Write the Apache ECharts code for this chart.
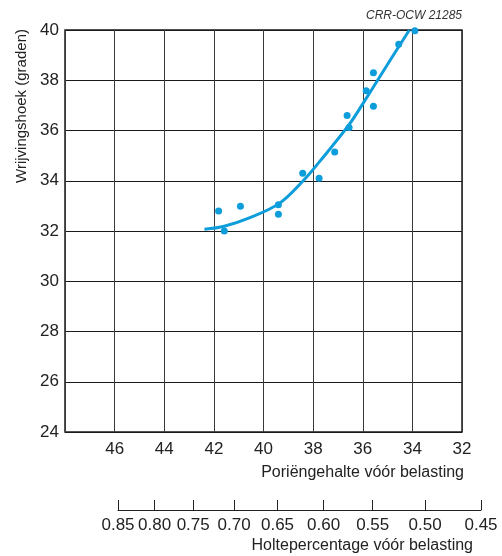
<!DOCTYPE html>
<html>
<head>
<meta charset="utf-8">
<script src="https://cdn.jsdelivr.net/npm/echarts@6/dist/echarts.min.js"></script>
<style>
  html, body { margin: 0; padding: 0; background: #fff; }
  #chart { width: 502px; height: 556px; }
</style>
</head>
<body>
<div id="chart"></div>
<script>
// meetpunten: poriëngehalte (%) en wrijvingshoek (graden)
const pointPorosity = [41.81, 41.58, 40.93, 39.40, 39.40, 38.42, 37.76, 37.13, 36.63, 36.55, 35.86, 35.57, 35.57, 34.55, 33.90];
const pointAngle = [32.80, 32.00, 32.99, 33.04, 32.67, 34.30, 34.10, 35.14, 36.60, 36.12, 37.58, 38.30, 36.97, 39.43, 39.97];
// getekende trendlijn
const curvePorosity = [42.38, 41.58, 40.57, 39.36, 38.42, 37.75, 36.56, 35.86, 35.06, 34.12];
const curveAngle = [32.07, 32.19, 32.52, 33.10, 33.98, 34.75, 36.22, 37.28, 38.54, 40.0];
// holtepercentage (e) ticks onder de grafiek
const voidRatioTicks = [0.85, 0.80, 0.75, 0.70, 0.65, 0.60, 0.55, 0.50, 0.45];

const blue = "#0d9ddb";
const font = "Liberation Sans, Arial, sans-serif";

// e = n / (1 - n)  ->  n = e / (1 + e), in procenten
const toPorosity = (e) => (e / (1 + e)) * 100;
const voidTickPos = voidRatioTicks.map(toPorosity);

const myChart = echarts.init(document.getElementById("chart"), null, { renderer: "canvas" });

const option = {
  backgroundColor: "#fff",
  animation: false,
  textStyle: { fontFamily: font },
  grid: [
    { left: 65, top: 30, width: 397, height: 402, show: true, borderColor: "#1a1a1a", borderWidth: 1.5, backgroundColor: "transparent" },
    { left: 118, top: 509, width: 363, height: 1 },
  ],
  xAxis: [
    {
      type: "value",
      gridIndex: 0,
      min: 32,
      max: 48,
      interval: 2,
      inverse: true,
      axisLine: { show: false },
      axisTick: { show: false },
      axisLabel: { showMaxLabel: false, color: "#222", fontSize: 17, margin: 9, fontFamily: font },
      splitLine: { show: true, lineStyle: { color: "#3a3a3a", width: 1 } },
    },
    {
      type: "value",
      gridIndex: 1,
      min: toPorosity(0.45),
      max: toPorosity(0.85),
      inverse: true,
      axisLine: { show: true, lineStyle: { color: "#222", width: 1 } },
      axisTick: { show: true, customValues: voidTickPos, inside: true, length: 10, lineStyle: { color: "#222", width: 1 } },
      axisLabel: {
        customValues: voidTickPos,
        color: "#222",
        fontSize: 17,
        margin: 7,
        fontFamily: font,
        formatter: (v) => (v / (100 - v)).toFixed(2),
      },
      splitLine: { show: false },
    },
  ],
  yAxis: [
    {
      type: "value",
      gridIndex: 0,
      min: 24,
      max: 40,
      interval: 2,
      axisLine: { show: false },
      axisTick: { show: false },
      axisLabel: { color: "#222", fontSize: 17, margin: 6, fontFamily: font },
      splitLine: { show: true, lineStyle: { color: "#1a1a1a", width: 1 } },
    },
    { type: "value", gridIndex: 1, show: false, min: 0, max: 1 },
  ],
  graphic: [
    {
      type: "text",
      x: 22,
      y: 106,
      rotation: Math.PI / 2,
      style: { text: "Wrijvingshoek (graden)", fill: "#222", font: "15px " + font, textAlign: "center", textVerticalAlign: "middle" },
    },
    {
      type: "text",
      x: 462,
      y: 16,
      style: { text: "CRR-OCW 21285", fill: "#333", font: "italic 12px " + font, textAlign: "right", textVerticalAlign: "middle" },
    },
    {
      type: "text",
      x: 464,
      y: 473,
      style: { text: "Poriëngehalte vóór belasting", fill: "#222", font: "16px " + font, textAlign: "right", textVerticalAlign: "middle" },
    },
    {
      type: "text",
      x: 473,
      y: 546,
      style: { text: "Holtepercentage vóór belasting", fill: "#222", font: "16px " + font, textAlign: "right", textVerticalAlign: "middle" },
    },
  ],
  series: [
    {
      type: "line",
      xAxisIndex: 0,
      yAxisIndex: 0,
      smooth: 0.35,
      symbol: "none",
      lineStyle: { color: blue, width: 3 },
      data: curvePorosity.map((n, i) => [n, curveAngle[i]]),
      z: 3,
    },
    {
      type: "scatter",
      xAxisIndex: 0,
      yAxisIndex: 0,
      symbolSize: 7,
      itemStyle: { color: blue, opacity: 1 },
      data: pointPorosity.map((n, i) => [n, pointAngle[i]]),
      z: 4,
    },
  ],
};

myChart.setOption(option);
</script>
</body>
</html>
